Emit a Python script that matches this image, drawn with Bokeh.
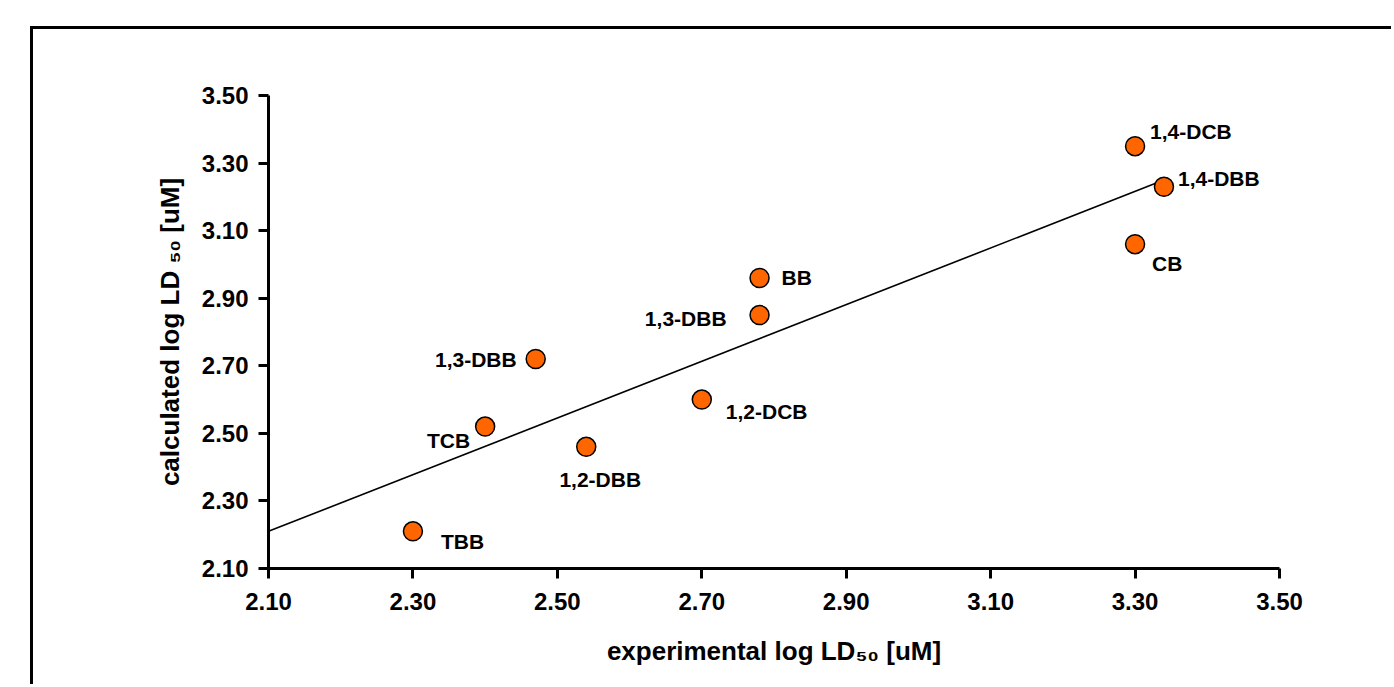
from bokeh.plotting import figure
from bokeh.layouts import column
from bokeh.models import Range1d, FixedTicker, NumeralTickFormatter, ColumnDataSource
from bokeh.core.properties import value
from bokeh.embed import file_html
from bokeh.resources import INLINE

# ---- data ----
compounds = ["TBB", "TCB", "1,3-DBB", "1,2-DBB", "1,2-DCB", "1,3-DBB", "BB", "1,4-DCB", "1,4-DBB", "CB"]
experimental = [2.30, 2.40, 2.47, 2.54, 2.70, 2.78, 2.78, 3.30, 3.34, 3.30]
calculated = [2.21, 2.52, 2.72, 2.46, 2.60, 2.85, 2.96, 3.35, 3.23, 3.06]
trend_x = [2.10, 3.34]
trend_y = [2.21, 3.25]
ticks = [2.10, 2.30, 2.50, 2.70, 2.90, 3.10, 3.30, 3.50]

# ---- label placement (styling, pixels) ----
label_dx = [28, -15, -19, 14, 24, -33, 22, 15, 14, 17]
label_dy = [10, 14, 0, 33, 12, 3, 0, -15, -8, 19]
label_align = ["left", "right", "right", "center", "left", "right", "left", "left", "left", "left"]

FONT = "Liberation Sans"

p = figure(frame_width=1011, frame_height=473,
           min_border_left=235, min_border_right=112, min_border_top=66, min_border_bottom=116,
           x_range=Range1d(2.10, 3.50), y_range=Range1d(2.10, 3.50),
           output_backend="svg", toolbar_location=None)
p.outline_line_color = None
p.xgrid.visible = False
p.ygrid.visible = False
p.background_fill_color = "white"
p.border_fill_color = "white"

for ax in (p.xaxis[0], p.yaxis[0]):
    ax.ticker = FixedTicker(ticks=ticks)
    ax.formatter = NumeralTickFormatter(format="0.00")
    ax.axis_line_width = 3
    ax.axis_line_color = "black"
    ax.major_tick_line_width = 3
    ax.major_tick_out = 10
    ax.major_tick_in = 0
    ax.minor_tick_line_color = None
    ax.major_label_text_font = FONT
    ax.major_label_text_font_style = "bold"
    ax.major_label_text_font_size = "24px"
    ax.major_label_text_color = "black"
    ax.axis_label_text_font = FONT
    ax.axis_label_text_font_style = "bold"
    ax.axis_label_text_font_size = "26px"
    ax.axis_label_text_color = "black"

p.xaxis.axis_label = "experimental log LD₅₀ [uM]"
p.yaxis.axis_label = "calculated log LD ₅₀ [uM]"
p.xaxis.major_label_standoff = 14
p.yaxis.major_label_standoff = 10
p.xaxis.axis_label_standoff = 23
p.yaxis.axis_label_standoff = 14

# trend line
p.line(trend_x, trend_y, line_color="black", line_width=1.6)

src = ColumnDataSource(dict(x=experimental, y=calculated, name=compounds,
                            dx=label_dx, dy=label_dy, align=label_align))
p.scatter("x", "y", source=src, size=19, fill_color="#FF6600", line_color="black", line_width=1.5)
p.text("x", "y", text="name", source=src, x_offset="dx", y_offset="dy", text_align="align",
       text_baseline="middle", text_font=value(FONT), text_font_size="21px",
       text_font_style="bold", text_color="black")

# outer frame: only its top and left edges fall inside the window
layout = column(p, margin=(26, 0, 0, 30),
                styles={"border-left": "3px solid black", "border-top": "3px solid black"})

open("out.html", "w").write(file_html(layout, INLINE))
